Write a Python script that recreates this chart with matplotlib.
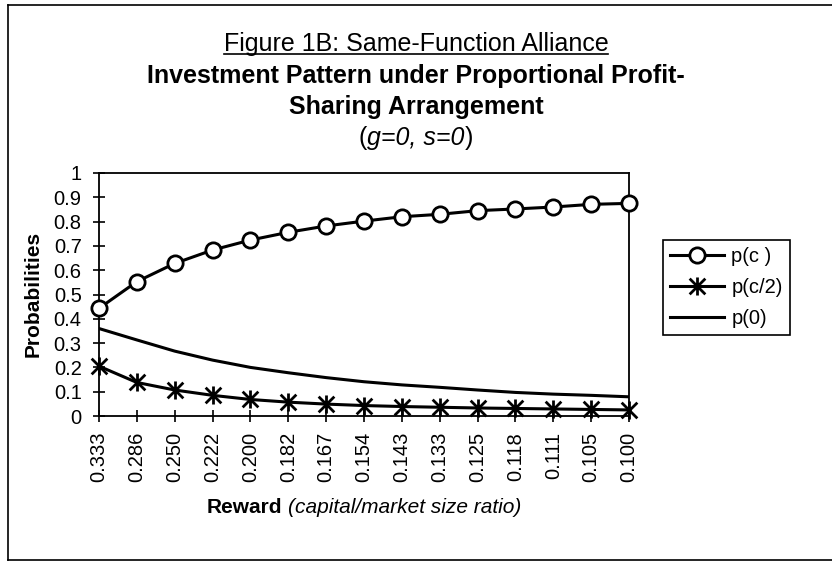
import numpy as np
import matplotlib
matplotlib.use('Agg')
import matplotlib.pyplot as plt
from matplotlib.path import Path
from matplotlib.lines import Line2D

plt.rcParams['font.family'] = ['Liberation Sans', 'DejaVu Sans']

# data
reward = ['0.333', '0.286', '0.250', '0.222', '0.200', '0.182', '0.167', '0.154',
          '0.143', '0.133', '0.125', '0.118', '0.111', '0.105', '0.100']
p_c = [0.443, 0.553, 0.628, 0.683, 0.724, 0.756, 0.782, 0.802,
       0.820, 0.830, 0.845, 0.852, 0.860, 0.871, 0.875]
p_half = [0.205, 0.138, 0.107, 0.085, 0.068, 0.057, 0.049, 0.043,
          0.039, 0.036, 0.033, 0.031, 0.029, 0.027, 0.025]
p_zero = [0.360, 0.313, 0.267, 0.230, 0.200, 0.178, 0.158, 0.141,
          0.128, 0.118, 0.107, 0.097, 0.090, 0.085, 0.079]
y_ticks = [0, 0.1, 0.2, 0.3, 0.4, 0.5, 0.6, 0.7, 0.8, 0.9, 1]
y_tick_labels = ['0', '0.1', '0.2', '0.3', '0.4', '0.5', '0.6', '0.7', '0.8', '0.9', '1']

W, H = 832, 569
fig = plt.figure(figsize=(W / 100, H / 100), dpi=100)
ax = fig.add_axes([99 / W, 1 - 416 / H, 530 / W, 243 / H])

# excel style star: an X with a vertical bar through it
star = Path([(-1, -1), (1, 1), (-1, 1), (1, -1), (0, -1.15), (0, 1.15)],
            [Path.MOVETO, Path.LINETO, Path.MOVETO, Path.LINETO, Path.MOVETO, Path.LINETO])

x = np.arange(len(reward))
ax.plot(x, p_c, '-o', color='black', lw=2.2, ms=11, mfc='white', mec='black', mew=2,
        label='p(c )', clip_on=False, zorder=4)
ax.plot(x, p_half, '-', color='black', lw=2.2, marker=star, ms=13, mew=2,
        label='p(c/2)', clip_on=False, zorder=4)
ax.plot(x, p_zero, '-', color='black', lw=2.2, label='p(0)', zorder=3)

ax.set_xlim(0, len(reward) - 1)
ax.set_ylim(0, 1)
ax.set_xticks(x)
ax.set_xticklabels(reward, rotation=90, fontsize=14.5)
ax.set_yticks(y_ticks)
ax.set_yticklabels(y_tick_labels, fontsize=14.5)
ax.tick_params(axis='both', direction='inout', length=9, width=1.2, colors='black')
ax.tick_params(axis='y', pad=8)
ax.tick_params(axis='x', pad=7)
for s in ax.spines.values():
    s.set_linewidth(1.3)

leg = fig.legend(loc='upper left', bbox_to_anchor=(663 / W, 1 - 240 / H), fontsize=14.5,
                 frameon=True, fancybox=False, edgecolor='black', framealpha=1,
                 handlelength=2.7, handletextpad=0.35, borderpad=0.35,
                 labelspacing=0.6, borderaxespad=0)
leg.get_frame().set_linewidth(1.2)

# outer chart frame (open on the right, as in the scan)
for xs, ys in [([8, W], [5, 5]), ([8, 8], [5, 560]), ([8, W], [560, 560])]:
    fig.add_artist(Line2D([v / W for v in xs], [1 - v / H for v in ys],
                          transform=fig.transFigure, color='black', lw=1.2))

renderer = fig.canvas.get_renderer()


def text_row(parts, cx, baseline, size, gap=0.0):
    # lay out differently styled pieces on one baseline, centred on cx (pixels)
    items = [fig.text(0, 1 - baseline / H, s, fontsize=size, va='baseline', ha='left', **st)
             for s, st in parts]
    widths = [t.get_window_extent(renderer).width for t in items]
    left = cx - (sum(widths) + gap * (len(items) - 1)) / 2
    for t, w in zip(items, widths):
        t.set_x(left / W)
        left += w + gap
    return items


title_cx = 416
t1 = text_row([('Figure 1B: Same-Function Alliance', {})], title_cx, 51, 18)[0]
bb = t1.get_window_extent(renderer)
fig.add_artist(Line2D([bb.x0 / W, bb.x1 / W], [(H - 54) / H] * 2,
                      transform=fig.transFigure, color='black', lw=1.2))
text_row([('Investment Pattern under Proportional Profit-', {'fontweight': 'bold'})], title_cx, 83, 18)
text_row([('Sharing Arrangement', {'fontweight': 'bold'})], title_cx, 114, 18)
text_row([('(', {}), ('g=0, s=0', {'fontstyle': 'italic'}), (')', {})], title_cx, 145, 18)

text_row([('Reward', {'fontweight': 'bold'}),
          ('(capital/market size ratio)', {'fontstyle': 'italic'})],
         364, 513, 15, gap=5)
fig.text(33 / W, 1 - 294 / H, 'Probabilities', rotation=90, ha='center', va='center',
         fontweight='bold', fontsize=15)

fig.savefig('out.png', dpi=100)
